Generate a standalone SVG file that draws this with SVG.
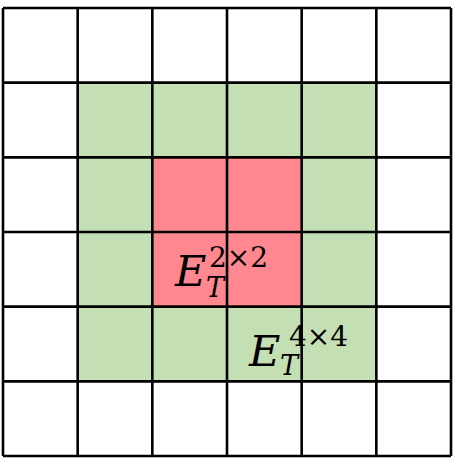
<svg xmlns="http://www.w3.org/2000/svg" width="453" height="462" viewBox="0 0 453 462">
<style>
.g{fill:#c5dfb5}
.r{fill:#fe8790}
.ln{stroke:#000;stroke-width:2.6;fill:none}
.e{font-family:"DejaVu Serif",serif;font-style:italic;fill:#000}
.s{font-family:"DejaVu Serif",serif;fill:#000}
</style>
<rect width="453" height="462" fill="#fff"/>
<g id="outer-ring">
<rect class="g" x="77.67" y="82.67" width="298.67" height="298.67"/>
</g>
<g id="inner-block">
<rect class="r" x="152.33" y="157.33" width="149.33" height="149.33"/>
</g>
<g id="connectors">
<path class="ln" d="M3,8V456M77.67,8V456M152.33,8V456M227,8V456M301.67,8V456M376.33,8V456M451,8V456M3,8H451M3,82.67H451M3,157.33H451M3,232H451M3,306.67H451M3,381.33H451M3,456H451"/>
</g>
<g id="label-2x2">
<text class="e" x="175" y="286" font-size="43">E</text>
<text class="e" x="206" y="297" font-size="27">T</text>
<text class="s" x="209" y="267" font-size="28">2×2</text>
</g>
<g id="label-4x4">
<text class="e" x="249" y="366" font-size="43">E</text>
<text class="e" x="280" y="375" font-size="27">T</text>
<text class="s" x="289" y="346" font-size="28">4×4</text>
</g>
</svg>
